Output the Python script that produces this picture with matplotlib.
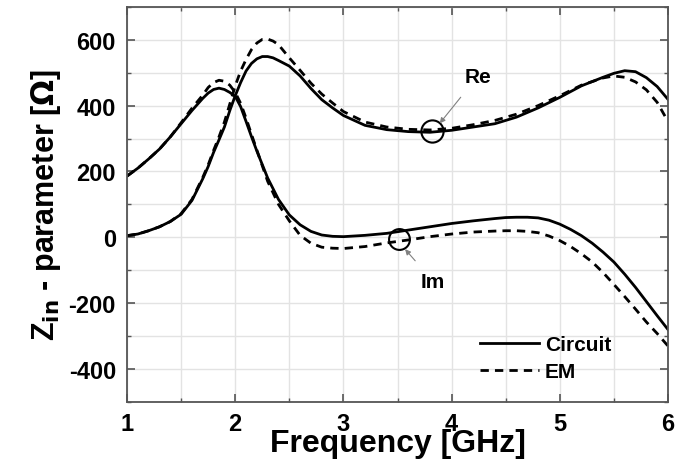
import matplotlib
matplotlib.use('Agg')
import matplotlib.pyplot as plt

plt.rcParams['font.family'] = ['Liberation Sans', 'DejaVu Sans']
plt.rcParams['font.weight'] = 'bold'
plt.rcParams['axes.unicode_minus'] = False

# ================= Data =================
freq_re = [1.0, 1.1, 1.2, 1.3, 1.4, 1.5, 1.6, 1.7, 1.75, 1.8, 1.85, 1.9, 1.95, 2.0,
           2.05, 2.1, 2.15, 2.2, 2.25, 2.3, 2.35, 2.4, 2.5, 2.6, 2.7, 2.8, 2.9, 3.0,
           3.2, 3.4, 3.6, 3.8, 4.0, 4.2, 4.4, 4.6, 4.8, 5.0, 5.2, 5.4, 5.5, 5.6,
           5.7, 5.8, 5.9, 6.0]
re_circuit = [5, 10, 20, 32, 48, 70, 112, 178, 215, 258, 296, 335, 385, 430,
              470, 505, 528, 542, 549, 549, 545, 537, 520, 490, 452, 418, 393, 370,
              340, 327, 321, 319, 325, 335, 345, 365, 393, 425, 460, 486, 498, 506,
              503, 485, 458, 419]
re_em = [5, 10, 20, 32, 48, 72, 115, 182, 220, 264, 305, 350, 405, 460,
         505, 540, 570, 590, 601, 602, 596, 585, 545, 507, 468, 435, 408, 382,
         350, 335, 328, 326, 331, 342, 355, 374, 400, 430, 462, 484, 490, 486,
         472, 448, 410, 352]

freq_im = [1.0, 1.1, 1.2, 1.3, 1.4, 1.5, 1.6, 1.7, 1.75, 1.8, 1.85, 1.9, 1.95, 2.0,
           2.05, 2.1, 2.15, 2.2, 2.3, 2.4, 2.5, 2.6, 2.7, 2.8, 2.9, 3.0, 3.2, 3.4,
           3.6, 3.8, 4.0, 4.2, 4.4, 4.5, 4.6, 4.7, 4.8, 4.9, 5.0, 5.1, 5.2, 5.3,
           5.4, 5.5, 5.6, 5.7, 5.8, 5.9, 6.0]
im_circuit = [186, 210, 238, 268, 305, 345, 385, 422, 438, 449, 453, 449, 440, 428,
              397, 352, 306, 262, 180, 115, 68, 38, 18, 7, 3, 2, 6, 12,
              22, 32, 42, 50, 57, 60, 61, 61, 59, 52, 40, 24, 5, -18,
              -45, -75, -112, -152, -195, -238, -280]
im_em = [186, 210, 238, 268, 305, 348, 392, 432, 455, 470, 477, 474, 462, 440,
         407, 362, 313, 265, 170, 100, 50, 6, -18, -30, -33, -34, -28, -17,
         -8, 2, 10, 16, 19, 20, 20, 18, 14, 4, -10, -28, -50, -75,
         -107, -143, -180, -218, -257, -292, -330]

x_ticks = [1, 2, 3, 4, 5, 6]
y_ticks = [-400, -200, 0, 200, 400, 600]

# ================= Plot =================
fig = plt.figure(figsize=(6.83, 4.6), dpi=100)
ax = fig.add_axes([0.186, 0.124, 0.792, 0.859])

ax.plot(freq_re, re_circuit, color='black', lw=2.0, label='Circuit')
ax.plot(freq_re, re_em, color='black', lw=2.0, ls=(0, (3, 2.2)), label='EM')
ax.plot(freq_im, im_circuit, color='black', lw=2.0)
ax.plot(freq_im, im_em, color='black', lw=2.0, ls=(0, (3, 2.2)))

ax.set_xlim(1, 6)
ax.set_ylim(-500, 700)
ax.set_xticks(x_ticks)
ax.set_yticks(y_ticks)
ax.set_xticks([1.5, 2.5, 3.5, 4.5, 5.5], minor=True)
ax.set_yticks([-500, -300, -100, 100, 300, 500, 700], minor=True)
ax.grid(True, which='both', color='#e3e3e3', lw=1.0)
ax.set_axisbelow(True)

ax.tick_params(which='both', direction='in', top=True, right=True, color='#555555')
ax.tick_params(which='major', length=6, width=1.2)
ax.tick_params(which='minor', length=3, width=1.0)
ax.tick_params(axis='y', labelsize=17, pad=8)
ax.tick_params(axis='x', labelsize=17, pad=7)
for s in ax.spines.values():
    s.set_color('#555555')
    s.set_linewidth(1.3)

ax.set_xlabel('Frequency [GHz]', fontsize=23, fontweight='bold', labelpad=-5)
ax.set_ylabel(r'Z$_{\mathbf{in}}$ - parameter [$\Omega$]', fontsize=22, fontweight='bold', labelpad=4)

# circles + arrows
ax.plot([3.82], [322], 'o', ms=16, mfc='none', mec='black', mew=1.5)
ax.plot([3.51], [-6], 'o', ms=15, mfc='none', mec='black', mew=1.5)
ax.annotate('Re', xy=(3.89, 346), xytext=(4.24, 489), fontsize=15, fontweight='bold',
            ha='center', va='center',
            arrowprops=dict(arrowstyle='-|>', color='gray', lw=0.8, mutation_scale=8,
                            shrinkA=8, shrinkB=0))
ax.annotate('Im', xy=(3.57, -36), xytext=(3.83, -134), fontsize=15, fontweight='bold',
            ha='center', va='center',
            arrowprops=dict(arrowstyle='-|>', color='gray', lw=0.8, mutation_scale=8,
                            shrinkA=8, shrinkB=0))

ax.legend(loc='lower right', bbox_to_anchor=(0.93, 0.005), frameon=False,
          handlelength=2.8, handletextpad=0.3, labelspacing=0.4,
          prop={'weight': 'bold', 'size': 15})

fig.savefig('out.png', dpi=100)
